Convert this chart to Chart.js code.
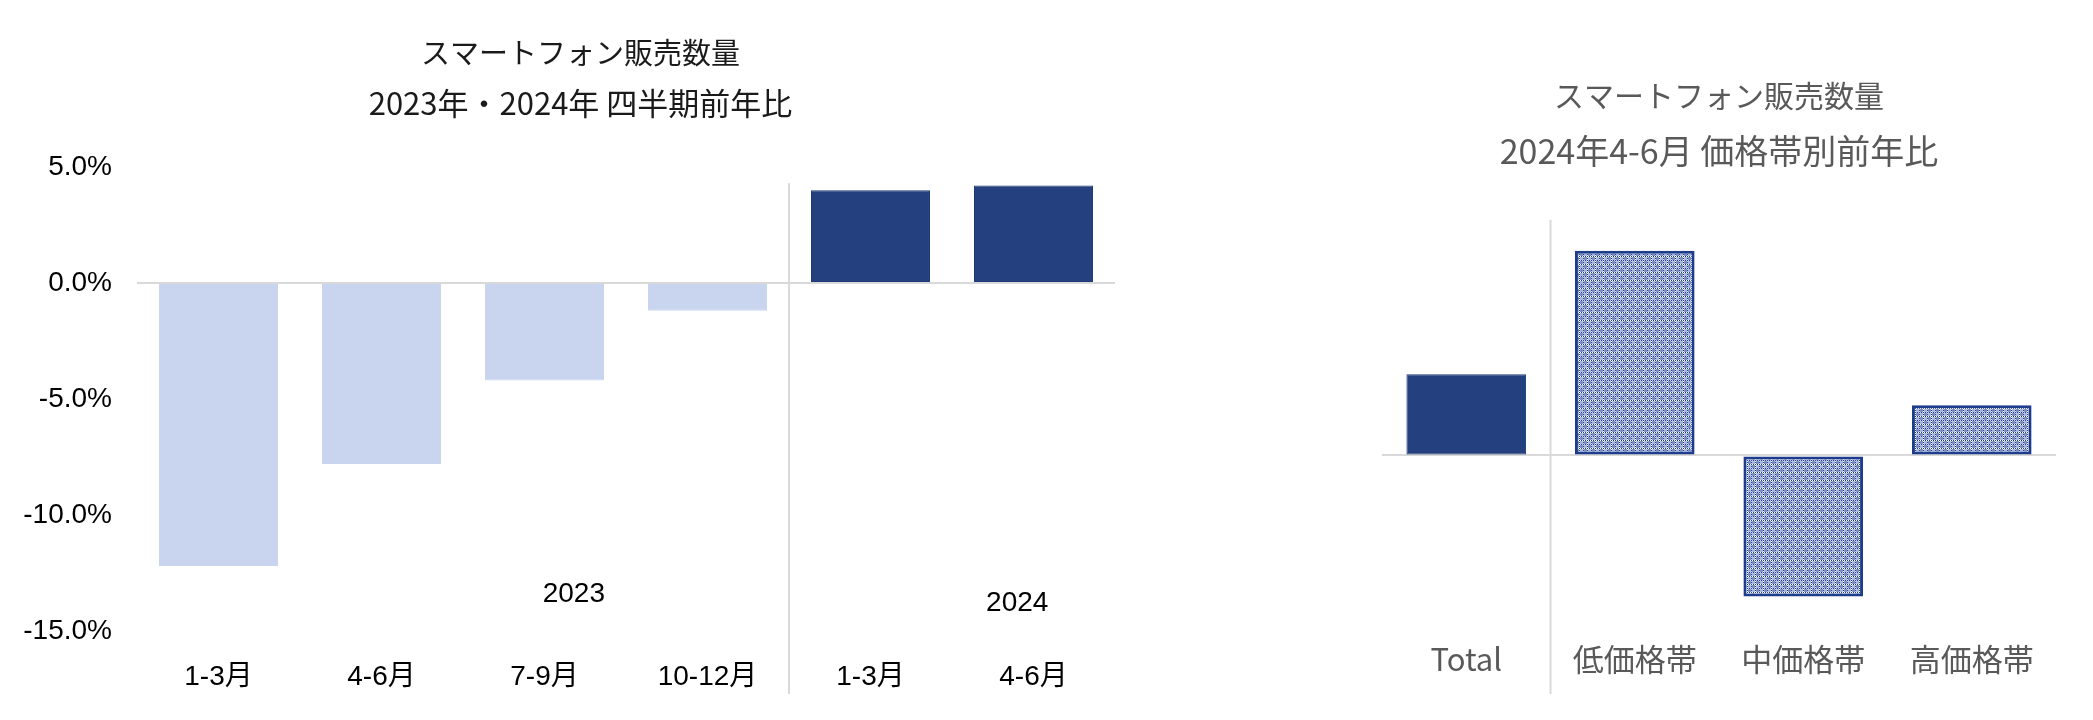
<!DOCTYPE html>
<html>
<head>
<meta charset="utf-8">
<script src="https://cdn.jsdelivr.net/npm/chart.js@4.4.1/dist/chart.umd.min.js"></script>
<style>
  html, body { margin: 0; padding: 0; background: #fff; }
  #wrap { position: relative; width: 2093px; height: 720px; }
  #left { position: absolute; left: 0; top: 0; }
  #right { position: absolute; left: 1347px; top: 0; }
</style>
</head>
<body>
<div id="wrap">
  <div id="left"><canvas id="quarter" width="1161" height="720"></canvas></div>
  <div id="right"><canvas id="price" width="746" height="720"></canvas></div>
</div>
<script>
// left chart: quarterly YoY
var quarterLabels = ["1-3月", "4-6月", "7-9月", "10-12月", "1-3月", "4-6月"];
var quarterYears = ["2023", "2023", "2023", "2023", "2024", "2024"];
var quarterValues = [-12.2, -7.8, -4.2, -1.2, 4.0, 4.2];
var quarterTicks = [5, 0, -5, -10, -15];
var yearLabels = ["2023", "2024"];

// right chart: price band YoY, 2024 Apr-Jun
var priceLabels = ["Total", "低価格帯", "中価格帯", "高価格帯"];
var priceValues = [4.2, 10.6, -7.3, 2.6];

var navy = "#24407f";
var light = "#c9d5ee";
var jpFont = "'Liberation Sans', 'Noto Sans CJK JP', sans-serif";
var grayFont = "'Noto Sans CJK JP', sans-serif";

Chart.defaults.animation = false;

function zeroLine(ctx) {
  return ctx.tick && ctx.tick.value === 0 ? "#d9d9d9" : "rgba(0,0,0,0)";
}

// dotted plaid fill for the price band bars
function makePattern() {
  var c = document.createElement("canvas");
  c.width = 8; c.height = 8;
  var g = c.getContext("2d");
  g.fillStyle = "#7c90c6";
  g.fillRect(0, 0, 8, 8);
  g.fillStyle = "#a9b7de";
  g.fillRect(1, 1, 3, 3);
  g.fillRect(5, 5, 3, 3);
  for (var i = 0; i < 8; i++) {
    g.fillStyle = i % 2 === 0 ? "#1d3c8c" : "#ffffff";
    g.fillRect(i, 0, 1, 1);
    g.fillRect(0, i, 1, 1);
    g.fillStyle = i % 2 === 0 ? "#2a4892" : "#c3cdea";
    g.fillRect(i, 4, 1, 1);
    g.fillRect(4, i, 1, 1);
  }
  return document.getElementById("price").getContext("2d").createPattern(c, "repeat");
}

var quarterDecor = {
  id: "quarterDecor",
  afterDraw: function (chart) {
    var ctx = chart.ctx, x = chart.scales.x, y = chart.scales.y;
    ctx.save();
    // year separator
    ctx.strokeStyle = "#d9d9d9";
    ctx.lineWidth = 2;
    ctx.beginPath();
    ctx.moveTo(x.getPixelForValue(3.5), y.getPixelForValue(4.3));
    ctx.lineTo(x.getPixelForValue(3.5), chart.height - 26);
    ctx.stroke();
    // year labels
    ctx.fillStyle = "#000";
    ctx.font = "28px " + jpFont;
    ctx.textAlign = "center";
    ctx.textBaseline = "middle";
    ctx.fillText(yearLabels[0], x.getPixelForValue(2.18), y.getPixelForValue(-13.4));
    ctx.fillText(yearLabels[1], x.getPixelForValue(4.9), y.getPixelForValue(-13.8));
    ctx.restore();
  }
};

new Chart("quarter", {
  type: "bar",
  data: {
    labels: quarterLabels,
    datasets: [{
      data: quarterValues,
      backgroundColor: quarterYears.map(function (y) { return y === "2023" ? light : navy; }),
      borderColor: quarterYears.map(function (y) { return y === "2023" ? light : "#1f3a78"; }),
      borderWidth: 1,
      borderSkipped: false,
      barPercentage: 0.73,
      categoryPercentage: 1
    }]
  },
  options: {
    responsive: false,
    layout: { padding: 0 },
    plugins: {
      legend: { display: false },
      tooltip: { enabled: false },
      title: {
        display: true,
        text: "スマートフォン販売数量",
        color: "#1a1a1a",
        font: { family: grayFont, size: 29, weight: "normal", lineHeight: 1.2 },
        padding: { top: 36, bottom: 0 }
      },
      subtitle: {
        display: true,
        text: "2023年・2024年 四半期前年比",
        color: "#1a1a1a",
        font: { family: grayFont, size: 31, weight: "normal", lineHeight: 1.2 },
        padding: { top: 14, bottom: 45 }
      }
    },
    scales: {
      x: {
        grid: { display: false, drawTicks: false },
        border: { display: false },
        ticks: { color: "#000", font: { family: jpFont, size: 28 }, padding: 29, maxRotation: 0, autoSkip: false },
        afterFit: function (s) { s.height = 89; }
      },
      y: {
        min: -15, max: 5,
        afterBuildTicks: function (s) { s.ticks = quarterTicks.map(function (v) { return { value: v }; }); },
        ticks: {
          color: "#000", padding: 25,
          font: { family: jpFont, size: 28 },
          callback: function (v) { return v.toFixed(1) + "%"; }
        },
        grid: { color: zeroLine, lineWidth: 2, drawTicks: false },
        border: { display: false },
        afterFit: function (s) { s.width = 137; }
      },
      // empty right-hand gutter
      y2: {
        position: "right",
        ticks: { display: false },
        grid: { display: false, drawTicks: false },
        border: { display: false },
        afterFit: function (s) { s.width = 46; }
      }
    }
  },
  plugins: [quarterDecor]
});

var pattern = makePattern();

var priceDecor = {
  id: "priceDecor",
  afterDraw: function (chart) {
    var ctx = chart.ctx, x = chart.scales.x;
    ctx.save();
    ctx.strokeStyle = "#d9d9d9";
    ctx.lineWidth = 2;
    ctx.beginPath();
    ctx.moveTo(x.getPixelForValue(0.5), chart.chartArea.top);
    ctx.lineTo(x.getPixelForValue(0.5), chart.height - 26);
    ctx.stroke();
    ctx.restore();
  }
};

new Chart("price", {
  type: "bar",
  data: {
    labels: priceLabels,
    datasets: [{
      data: priceValues,
      backgroundColor: priceLabels.map(function (l, i) { return i === 0 ? navy : pattern; }),
      borderColor: priceLabels.map(function (l, i) { return i === 0 ? "#1f3a78" : "#1d3c8c"; }),
      borderWidth: priceLabels.map(function (l, i) { return i === 0 ? 1 : 3; }),
      borderSkipped: false,
      barPercentage: 0.71,
      categoryPercentage: 1
    }]
  },
  options: {
    responsive: false,
    layout: { padding: { top: 0, right: 37, bottom: 0, left: 35 } },
    plugins: {
      legend: { display: false },
      tooltip: { enabled: false },
      title: {
        display: true,
        text: "スマートフォン販売数量",
        color: "#595959",
        font: { family: grayFont, size: 30, weight: "normal", lineHeight: 1.2 },
        padding: { top: 78, bottom: 0 }
      },
      subtitle: {
        display: true,
        text: "2024年4-6月 価格帯別前年比",
        color: "#595959",
        font: { family: grayFont, size: 34, weight: "normal", lineHeight: 1.2 },
        padding: { top: 17, bottom: 48 }
      }
    },
    scales: {
      x: {
        grid: { display: false, drawTicks: false },
        border: { display: false },
        ticks: { color: "#595959", font: { family: grayFont, size: 31 }, padding: 31, maxRotation: 0, autoSkip: false },
        afterFit: function (s) { s.height = 110; }
      },
      y: {
        min: -8, max: 12.2,
        ticks: { display: false },
        grid: { color: zeroLine, lineWidth: 2, drawTicks: false },
        border: { display: false },
        afterFit: function (s) { s.width = 0; }
      }
    }
  },
  plugins: [priceDecor]
});
</script>
</body>
</html>
